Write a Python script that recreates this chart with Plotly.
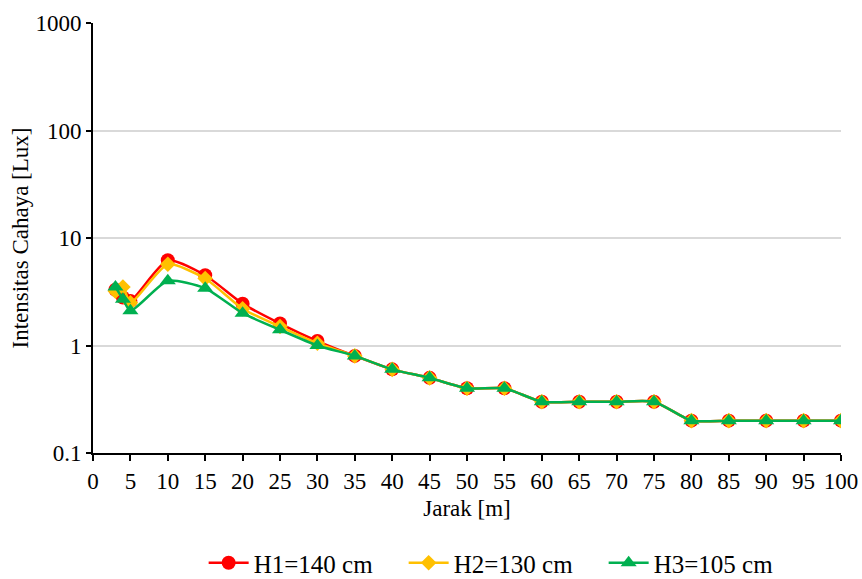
import plotly.graph_objects as go

jarak = [3, 4, 5, 10, 15, 20, 25, 30, 35, 40, 45, 50, 55, 60, 65, 70, 75, 80, 85, 90, 95, 100]
h1 = [3.3, 2.8, 2.6, 6.2, 4.5, 2.45, 1.6, 1.1, 0.8, 0.6, 0.5, 0.4, 0.4, 0.3, 0.3, 0.3, 0.3, 0.2, 0.2, 0.2, 0.2, 0.2]
h2 = [3.2, 3.5, 2.5, 5.7, 4.2, 2.2, 1.5, 1.05, 0.8, 0.6, 0.5, 0.4, 0.4, 0.3, 0.3, 0.3, 0.3, 0.2, 0.2, 0.2, 0.2, 0.2]
h3 = [3.5, 2.7, 2.1, 4.0, 3.4, 2.0, 1.4, 1.0, 0.8, 0.6, 0.5, 0.4, 0.4, 0.3, 0.3, 0.3, 0.3, 0.2, 0.2, 0.2, 0.2, 0.2]
names = ["H1=140 cm", "H2=130 cm", "H3=105 cm"]
colors = ["#FF0000", "#FFC000", "#00B050"]
symbols = ["circle", "diamond", "triangle-up"]
sizes = [14, 12, 14]
yticks = [0.1, 1, 10, 100, 1000]
yticktext = ["0.1", "1", "10", "100", "1000"]

font = "Liberation Serif, Times New Roman, serif"
fs = 23
fig = go.Figure()
for y, n, c, s, sz in zip([h1, h2, h3], names, colors, symbols, sizes):
    fig.add_trace(go.Scatter(
        x=jarak, y=y, name=n, mode="lines+markers",
        line=dict(color=c, width=2.5, shape="spline", smoothing=0.6),
        marker=dict(symbol=s, size=sz, color=c),
    ))

fig.update_layout(
    width=862, height=579,
    margin=dict(l=93, r=21, t=23, b=126),
    paper_bgcolor="white", plot_bgcolor="white",
    font=dict(family=font, size=fs, color="black"),
    showlegend=True,
    legend=dict(orientation="h", x=0.549, xanchor="center", xref="paper",
                y=(579 - 563) / 579, yanchor="middle", yref="container",
                font=dict(family=font, size=25), itemwidth=40, tracegroupgap=0,
                entrywidth=145, entrywidthmode="pixels"),
)
fig.update_xaxes(
    range=[0, 100], dtick=5, tick0=0, showgrid=False, automargin=False,
    showline=True, linecolor="black", linewidth=2,
    ticks="outside", ticklen=6, tickcolor="black", tickwidth=1.5,
    title=dict(text="Jarak [m]", font=dict(family=font, size=fs), standoff=7),
    tickfont=dict(family=font, size=fs),
)
fig.update_yaxes(
    type="log", range=[-1, 3], tickvals=yticks, ticktext=yticktext,
    showgrid=True, gridcolor="#D9D9D9", gridwidth=1.5, automargin=False,
    showline=True, linecolor="black", linewidth=2,
    ticks="outside", ticklen=5, tickcolor="black", tickwidth=1.5,
    ticklabelstandoff=0,
    title=dict(text="Intensitas Cahaya [Lux]", font=dict(family=font, size=fs), standoff=0),
    tickfont=dict(family=font, size=fs),
)
fig.write_html("out.html")
